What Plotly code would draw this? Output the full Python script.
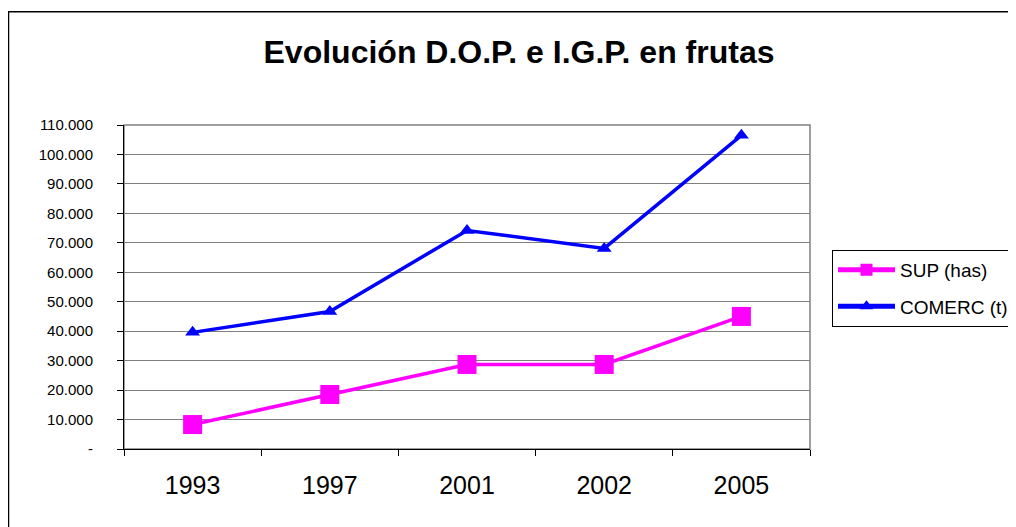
import plotly.graph_objects as go

years = ["1993", "1997", "2001", "2002", "2005"]
sup_has = [8300, 18500, 28700, 28700, 45000]
comerc_t = [39600, 46700, 74200, 68100, 106500]
y_tickvals = [0, 10000, 20000, 30000, 40000, 50000, 60000, 70000, 80000, 90000, 100000, 110000]
y_ticktext = ["-", "10.000", "20.000", "30.000", "40.000", "50.000", "60.000", "70.000",
              "80.000", "90.000", "100.000", "110.000"]

OFF = 8  # page body margin
W, H = 1016 - OFF, 527 - OFF
L, R, T, B = 124 - OFF, 810 - OFF, 125 - OFF, 449.5 - OFF

def px(x):
    return (x - OFF - L) / (R - L)

def py(y):
    return (B - (y - OFF)) / (B - T)

fig = go.Figure()
fig.add_trace(go.Scatter(x=years, y=sup_has, name="SUP (has)", mode="lines+markers",
                         legendgroup="a",
                         line=dict(color="#FF00FF", width=3.5),
                         marker=dict(symbol="square", size=19, color="#FF00FF")))
fig.add_trace(go.Scatter(x=years, y=comerc_t, name="COMERC (t)", mode="lines+markers",
                         legendgroup="b",
                         line=dict(color="#0000FF", width=3.5),
                         marker=dict(symbol="triangle-up", size=13, color="#0000FF")))

fig.update_layout(
    width=W, height=H,
    margin=dict(l=L, r=W - R, t=T, b=H - B, pad=0, autoexpand=False),
    paper_bgcolor="white", plot_bgcolor="white",
    font=dict(family="Liberation Sans, Arial", color="black"),
    title=dict(text="<b>Evolución D.O.P. e I.G.P. en frutas</b>", x=(519 - OFF) / W,
               xanchor="center", y=1 - (52 - OFF) / H, yanchor="middle",
               font=dict(size=32, color="black")),
    showlegend=True,
    legend=dict(x=px(832), y=py(250), xanchor="left", yanchor="top",
                bordercolor="black", borderwidth=1, font=dict(size=19),
                tracegroupgap=9, itemwidth=57, itemsizing="constant", bgcolor="white"),
    xaxis=dict(type="category", range=[-0.5, 4.5], showgrid=False, showline=True,
               linecolor="black", linewidth=1, ticks="outside", tickson="boundaries",
               ticklen=6, tickcolor="black", tickfont=dict(size=25), zeroline=False,
               ticklabelstandoff=14),
    yaxis=dict(range=[0, 110000], tickvals=y_tickvals, ticktext=y_ticktext,
               showgrid=True, gridcolor="#808080", gridwidth=1, showline=True,
               linecolor="black", linewidth=1, ticks="outside", ticklen=6,
               tickcolor="black", zeroline=False,
               tickfont=dict(size=15),
               ticklabelstandoff=21),
    shapes=[
        dict(type="rect", xref="paper", yref="paper", x0=0, x1=1, y0=0, y1=1,
             line=dict(color="#808080", width=1.5), layer="below"),
        dict(type="rect", xref="paper", yref="paper", x0=px(8.5), x1=px(1030),
             y0=py(540), y1=py(11.5), line=dict(color="black", width=1.5)),
    ],
)

fig.write_html("out.html")
